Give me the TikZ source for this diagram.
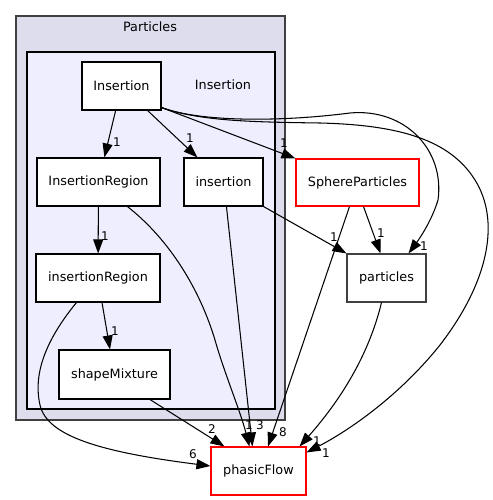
\documentclass[tikz,border=0pt]{standalone}
\usepackage{fontspec}
\setmainfont{DejaVu Sans}
\usetikzlibrary{arrows.meta,calc}
\definecolor{clOuter}{HTML}{DDDDEE}
\definecolor{clInner}{HTML}{EEEEFF}
\definecolor{clBorder}{HTML}{404040}
\definecolor{clRed}{HTML}{FF0000}
\begin{document}
\begin{tikzpicture}[x=1pt,y=-1pt,
  dirbox/.style={draw=black,fill=white,line width=1.1pt,inner sep=0pt,
    font=\fontsize{12.8}{14}\selectfont},
  extbox/.style={dirbox,draw=clBorder},
  redbox/.style={dirbox,draw=clRed},
  dep/.style={draw=black,line width=1.05pt,-{Triangle[length=14pt,width=10pt]}},
  lbl/.style={inner sep=0pt,font=\fontsize{12}{13}\selectfont},
  cltitle/.style={inner sep=0pt,font=\fontsize{12.8}{14}\selectfont}]
\useasboundingbox (0,0) rectangle (492,500);
% clusters
\draw[draw=clBorder,fill=clOuter,line width=1.6pt] (16,16) rectangle (285,420);
\node[cltitle] (tParticles) at (150,27) {Particles};
\draw[draw=black,fill=clInner,line width=1.1pt] (27,52) rectangle (275,409);
\node[cltitle] (tInsertion) at (223,85) {Insertion};
% nodes
\node[dirbox,minimum width=79pt,minimum height=48pt] (Ins) at (121.5,86) {Insertion};
\node[dirbox,minimum width=123pt,minimum height=48pt] (InsReg) at (98.5,182) {InsertionRegion};
\node[dirbox,minimum width=79pt,minimum height=48pt] (insn) at (223.5,182) {insertion};
\node[dirbox,minimum width=124pt,minimum height=48pt] (insReg) at (98,278) {insertionRegion};
\node[dirbox,minimum width=111pt,minimum height=49pt] (shape) at (114.5,374.5) {shapeMixture};
\node[redbox,minimum width=123pt,minimum height=47pt] (Sphere) at (357.5,182.5) {SphereParticles};
\node[extbox,minimum width=79pt,minimum height=48pt] (particles) at (386.5,278) {particles};
\node[redbox,minimum width=95pt,minimum height=48pt] (phasic) at (258.5,471) {phasicFlow};
% edges
\draw[dep] (Ins) -- (InsReg);
\node[lbl] (l1) at (117,142) {1};
\draw[dep] (Ins) -- (insn);
\node[lbl] (l2) at (190,138) {1};
\draw[dep] ($(Ins.south east)+(0,-3)$) -- (Sphere.north west);
\node[lbl] (l3) at (284,143) {1};
\draw[dep] ($(Ins.south east)+(0,-3)$) .. controls (200,122) and (280,122) .. (350,113)
  .. controls (405,108) and (445,150) .. (438,200)
  .. controls (432,220) and (420,238) .. ($(particles.north east)+(-18,0)$);
\node[lbl] (l4) at (424,246) {1};
\draw[dep] ($(Ins.south east)+(0,-3)$) .. controls (200,121) and (250,122) .. (320,123)
  .. controls (400,125) and (450,140) .. (475,180)
  .. controls (500,220) and (490,280) .. (440,345)
  .. controls (400,395) and (350,430) .. ($(phasic.north east)+(0,6)$);
\node[lbl] (l5) at (326,453) {1};
\draw[dep] (InsReg) -- (insReg);
\node[lbl] (l6) at (105,236) {1};
\draw[dep] ($(InsReg.south west)+(91,0)$) .. controls (170,240) and (200,290) .. (215,340)
  .. controls (225,375) and (240,410) .. ($(phasic.north west)+(39,0)$);
\node[lbl] (l7) at (249,425) {1};
\draw[dep] ($(insn.south west)+(43,0)$) -- ($(phasic.north west)+(42,0)$);
\node[lbl] (l8) at (260,425) {3};
\draw[dep] (insn.south east) -- (particles.north west);
\node[lbl] (l9) at (334,237) {1};
\draw[dep] ($(Sphere.south)+(6,0)$) -- ($(particles.north)+(-6,0)$);
\node[lbl] (l10) at (381,233) {1};
\draw[dep] ($(Sphere.south)+(-8,0)$) -- ($(phasic.north)+(9.5,0)$);
\node[lbl] (l11) at (283,432) {8};
\draw[dep] ($(particles.south)+(-5,0)$) .. controls (370,350) and (345,395) .. ($(phasic.north east)+(-7,0)$);
\node[lbl] (l12) at (317,441) {1};
\draw[dep] ($(insReg.south west)+(41,0)$) .. controls (50,335) and (32,370) .. (40,405)
  .. controls (47,436) and (100,452) .. ($(phasic.west)+(0,-5)$);
\node[lbl] (l13) at (193,454) {6};
\draw[dep] ($(insReg.south)+(4,0)$) -- ($(shape.north)+(-4.5,0)$);
\node[lbl] (l14) at (115,331) {1};
\draw[dep] ($(shape.south)+(35.5,0)$) -- ($(phasic.north west)+(14,0)$);
\node[lbl] (l15) at (212,429) {2};
\end{tikzpicture}
\end{document}
